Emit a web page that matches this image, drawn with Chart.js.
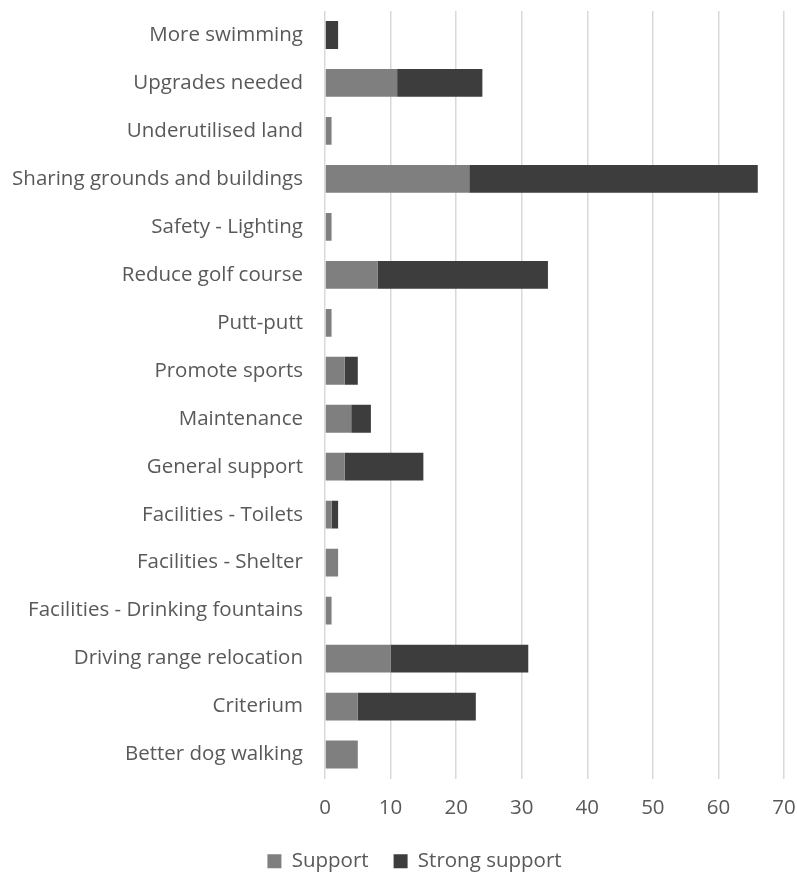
<!DOCTYPE html>
<html>
<head>
<meta charset="utf-8">
<script src="https://cdn.jsdelivr.net/npm/chart.js@4"></script>
<style>
  html, body { margin: 0; padding: 0; background: #ffffff; }
  #wrap { width: 797px; height: 877px; position: relative; }
</style>
</head>
<body>
<div id="wrap"><canvas id="c" width="797" height="877"></canvas></div>
<script>
const categories = [
  "More swimming",
  "Upgrades needed",
  "Underutilised land",
  "Sharing grounds and buildings",
  "Safety - Lighting",
  "Reduce golf course",
  "Putt-putt",
  "Promote sports",
  "Maintenance",
  "General support",
  "Facilities - Toilets",
  "Facilities - Shelter",
  "Facilities - Drinking fountains",
  "Driving range relocation",
  "Criterium",
  "Better dog walking"
];
const supportValues =       [0, 11, 1, 22, 1, 8, 1, 3, 4, 3, 1, 2, 1, 10, 5, 5];
const strongSupportValues = [2, 13, 0, 44, 0, 26, 0, 2, 3, 12, 1, 0, 0, 21, 18, 0];
const xTicks = [0, 10, 20, 30, 40, 50, 60, 70];

const FONT = "'Open Sans', 'Noto Sans', sans-serif";
const TEXT = "#595959";

function zeroPad(s) { s.paddingLeft = 0; s.paddingRight = 0; s.paddingTop = 0; s.paddingBottom = 0; }

const legendShift = {
  id: 'legendShift',
  afterLayout(chart) {
    const lg = chart.legend;
    if (!lg) return;
    const dx = 22.5, dy = 4.5;
    lg.left += dx; lg.right += dx;
    lg.top += dy; lg.bottom += dy;
  }
};

new Chart(document.getElementById('c'), {
  type: 'bar',
  data: {
    labels: categories,
    datasets: [
      { label: 'Support', data: supportValues, backgroundColor: '#7f7f7f', barPercentage: 0.58, categoryPercentage: 1 },
      { label: 'Strong support', data: strongSupportValues, backgroundColor: '#3d3d3d', barPercentage: 0.58, categoryPercentage: 1 }
    ]
  },
  plugins: [legendShift],
  options: {
    indexAxis: 'y',
    responsive: false,
    animation: false,
    layout: { padding: { left: 0, right: 13, top: 11, bottom: 0 } },
    plugins: {
      tooltip: { enabled: false },
      legend: {
        position: 'bottom',
        labels: {
          font: { family: FONT, size: 20.5 },
          color: TEXT,
          boxWidth: 14,
          boxHeight: 14,
          padding: 25
        }
      }
    },
    scales: {
      x: {
        stacked: true,
        min: 0,
        max: 70,
        afterBuildTicks: (s) => { s.ticks = xTicks.map(v => ({ value: v })); },
        afterFit: (s) => { s.height = 43; zeroPad(s); },
        grid: { color: '#d9d9d9', lineWidth: 1.5, drawTicks: false },
        border: { display: false },
        ticks: { font: { family: FONT, size: 20.5 }, color: TEXT, padding: 17 }
      },
      y: {
        stacked: true,
        afterFit: (s) => { s.width = 325; zeroPad(s); },
        grid: { display: false, drawTicks: false },
        border: { display: false },
        ticks: { font: { family: FONT, size: 20.5 }, color: TEXT, padding: 22 }
      }
    }
  }
});
</script>
</body>
</html>
